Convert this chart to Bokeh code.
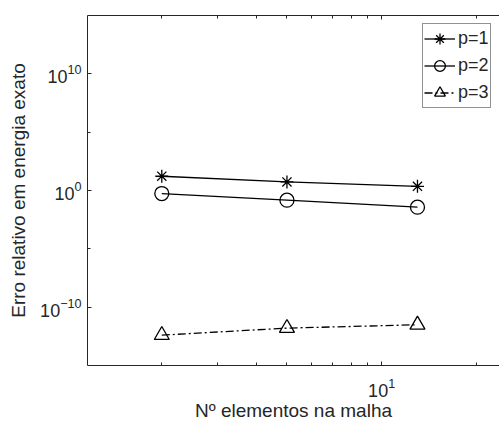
from bokeh.plotting import figure
from bokeh.models import LogAxis, FixedTicker, Legend, LegendItem, Range1d
from bokeh.embed import file_html
from bokeh.resources import INLINE

# Data
n_elem = [2, 5, 13]
err_p1 = [16.7, 5.4, 2.3]
err_p2 = [0.55, 0.148, 0.037]
err_p3 = [4.0e-13, 1.6e-12, 3.1e-12]

x_major = [10]
x_minor = [2, 3, 4, 5, 6, 7, 8, 9, 20]
y_major = [1e-10, 1, 1e10]
y_minor = [1e-5, 1e5]

FONT = "Liberation Sans"
AXC = "#262626"

p = figure(width=499, height=425, x_axis_type="log", y_axis_type="log",
           x_range=Range1d(1.161, 23.7), y_range=Range1d(1e-15, 1e15),
           output_backend="svg", toolbar_location=None,
           min_border_left=87, min_border_right=0, min_border_top=15,
           min_border_bottom=60)
p.outline_line_color = None
p.grid.visible = False
p.background_fill_color = "white"

xt = FixedTicker(ticks=x_major, minor_ticks=x_minor)
yt = FixedTicker(ticks=y_major, minor_ticks=y_minor)
p.xaxis.ticker = xt
p.yaxis.ticker = yt

for ax in (p.xaxis[0], p.yaxis[0]):
    ax.axis_line_color = AXC
    ax.axis_line_width = 1
    ax.major_tick_line_color = AXC
    ax.minor_tick_line_color = AXC
    ax.major_tick_in = 4
    ax.major_tick_out = 0
    ax.minor_tick_in = 3
    ax.minor_tick_out = 0
    ax.major_label_text_font = FONT
    ax.major_label_text_font_size = "18px"
    ax.major_label_text_color = AXC
    ax.axis_label_text_font = FONT
    ax.axis_label_text_font_size = "19px"
    ax.axis_label_text_font_style = "normal"
    ax.axis_label_text_color = AXC

p.xaxis.axis_label = "Nº elementos na malha"
p.yaxis.axis_label = "Erro relativo em energia exato"
p.xaxis.major_label_standoff = 12
p.xaxis.axis_label_standoff = 0
p.yaxis.major_label_standoff = 6
p.yaxis.axis_label_standoff = 8

top = LogAxis(ticker=xt, axis_line_color=AXC, major_tick_line_color=AXC,
              minor_tick_line_color=AXC, major_tick_in=4, major_tick_out=0,
              minor_tick_in=3, minor_tick_out=0,
              major_label_text_font_size="1px", major_label_text_alpha=0,
              major_label_standoff=0)
p.add_layout(top, "above")

r1l = p.line(n_elem, err_p1, line_color="black", line_width=1.3)
r1m = p.scatter(n_elem, err_p1, marker="asterisk", size=13, line_color="black", line_width=1.3)
r2l = p.line(n_elem, err_p2, line_color="black", line_width=1.3)
r2m = p.scatter(n_elem, err_p2, marker="circle", size=14, line_color="black",
                fill_color=None, line_width=1.3)
r3l = p.line(n_elem, err_p3, line_color="black", line_width=1.3, line_dash="8 3 2 3")
r3m = p.scatter(n_elem, err_p3, marker="triangle", size=15, line_color="black",
                fill_color=None, line_width=1.3)

legend = Legend(items=[LegendItem(label="p=1", renderers=[r1l, r1m]),
                       LegendItem(label="p=2", renderers=[r2l, r2m]),
                       LegendItem(label="p=3", renderers=[r3l, r3m])],
                location=(335, 257))
legend.label_text_font = FONT
legend.label_text_font_size = "18px"
legend.label_text_color = AXC
legend.border_line_color = AXC
legend.border_line_width = 1
legend.background_fill_color = "white"
legend.background_fill_alpha = 1
legend.padding = 1
legend.spacing = -1
legend.glyph_width = 31
legend.glyph_height = 27
legend.label_height = 20
legend.label_standoff = 3
legend.margin = 0
p.add_layout(legend)

open("out.html", "w").write(file_html(p, INLINE))
